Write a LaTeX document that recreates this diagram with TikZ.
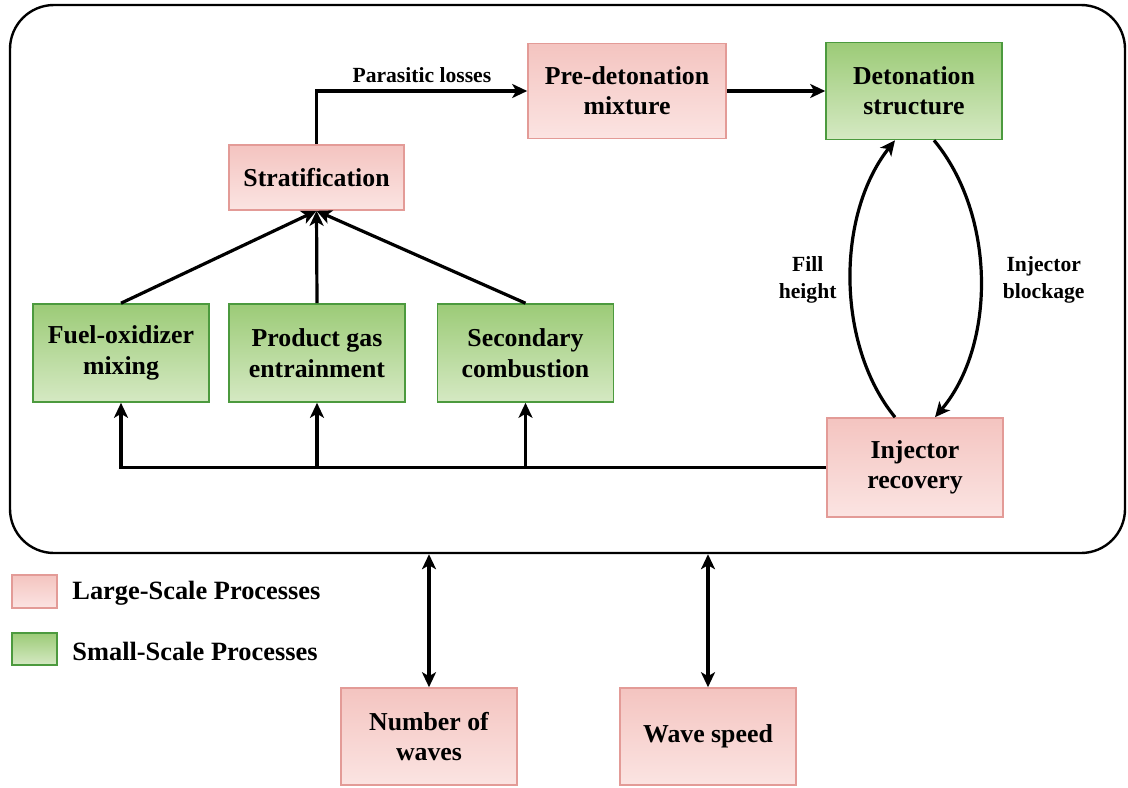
\documentclass[tikz,border=0pt]{standalone}
\usepackage{fontspec}
\setmainfont{Liberation Serif}
\usepackage{tikz}
\usetikzlibrary{arrows.meta}

\definecolor{lstop}{HTML}{F4C4C0}
\definecolor{lsbot}{HTML}{FBE4E2}
\definecolor{lsline}{HTML}{E39B97}
\definecolor{sstop}{HTML}{9CCB77}
\definecolor{ssbot}{HTML}{D5E9C3}
\definecolor{ssline}{HTML}{4C9A3E}

\tikzset{
	largebox/.style={draw=lsline,line width=0.8pt,top color=lstop,bottom color=lsbot,
		align=center,font=\fontsize{12.9}{15.2}\selectfont\bfseries},
	smallbox/.style={draw=ssline,line width=0.8pt,top color=sstop,bottom color=ssbot,
		align=center,font=\fontsize{12.9}{15.2}\selectfont\bfseries},
	tip/.tip={Stealth[length=7.5pt,width=7pt,inset=2pt]},
	arr/.style={line width=1.6pt,-tip},
	twoarr/.style={line width=1.6pt,tip-tip},
	lbl/.style={align=center,font=\fontsize{10.8}{13.5}\selectfont\bfseries}
}

\begin{document}
\begin{tikzpicture}[x=0.5pt,y=-0.5pt]
		\useasboundingbox (0,0) rectangle (1128,787);
%		\draw[help lines,step=50] (0,0) grid (1128,787);
		\path (567.5,279) coordinate (framec);
		\path (627,91) coordinate (predetc);
		\path (914,91) coordinate (detc);
		\path (316.5,177.5) coordinate (stratc);
		\path (121,353) coordinate (fueloxc);
		\path (317,353) coordinate (prodgasc);
		\path (525.5,353) coordinate (seccombc);
		\path (915,467.5) coordinate (injrecc);
		\path (429,736.5) coordinate (numwavesc);
		\path (708,736.5) coordinate (wavespeedc);

		\node[draw,line width=1.2pt,rounded corners=22pt,minimum width=557.5pt,minimum height=274pt] (frame) at (framec) {};

		\node[largebox,minimum width=99pt,minimum height=47.5pt] (predet) at (predetc) {Pre-detonation\\mixture};
		\node[smallbox,minimum width=88pt,minimum height=48.5pt] (det) at (detc) {Detonation\\structure};
		\node[largebox,minimum width=87.5pt,minimum height=32.5pt] (strat) at (stratc) {Stratification};
		\node[smallbox,minimum width=88pt,minimum height=49pt] (fuelox) at (fueloxc) {Fuel-oxidizer\\mixing};
		\node[smallbox,minimum width=88pt,minimum height=49pt] (prodgas) at (prodgasc) {Product gas\\entrainment};
		\node[smallbox,minimum width=88pt,minimum height=49pt] (seccomb) at (seccombc) {Secondary\\combustion};
		\node[largebox,minimum width=88pt,minimum height=49.5pt] (injrec) at (injrecc) {Injector\\recovery};
		\node[largebox,minimum width=88pt,minimum height=48.5pt] (numwaves) at (numwavesc) {Number of\\waves};
		\node[largebox,minimum width=88pt,minimum height=48.5pt] (wavespeed) at (wavespeedc) {Wave speed};

		% legend
		\node[largebox,minimum width=22.5pt,minimum height=16.5pt] (lslegend) at (34.5,591.5) {};
		\node[smallbox,minimum width=22.5pt,minimum height=16pt] (sslegend) at (34.5,649) {};
		\node[anchor=west,font=\fontsize{13.2}{15}\selectfont\bfseries,inner sep=0pt] (lstext) at (72,593) {Large-Scale Processes};
		\node[anchor=west,font=\fontsize{13.2}{15}\selectfont\bfseries,inner sep=0pt] (sstext) at (72,651) {Small-Scale Processes};

		% top row
		\draw[arr] (strat.north) |- node[lbl,above,pos=0.75] {Parasitic losses} (predet.west);
		\draw[arr] (predet.east) -- (det.west);

		% into stratification
		\draw[arr] (fuelox.north) -- (strat.south);
		\draw[arr] (prodgas.north) -- (strat.south);
		\draw[arr] (seccomb.north) -- (strat.south);

		% injector recovery feedback
		\draw[arr] (injrec.west) -| (fuelox.south);
		\draw[arr] (injrec.west -| prodgas) -- (prodgas.south);
		\draw[arr] (injrec.west -| seccomb) -- (seccomb.south);

		% detonation loop
		\draw[arr] ([xshift=-10pt]injrec.north) .. controls (836,345) and (836,215) .. ([xshift=-9.5pt]det.south)
			node[lbl,left=3pt,pos=0.5] {Fill\\height};
		\draw[arr] ([xshift=10pt]det.south) .. controls (996,215) and (996,345) .. ([xshift=10pt]injrec.north)
			node[lbl,right=7pt,pos=0.5] {Injector\\blockage};

		% global quantities
		\draw[twoarr] (frame.south -| numwaves) -- (numwaves.north);
		\draw[twoarr] (frame.south -| wavespeed) -- (wavespeed.north);
	\end{tikzpicture}
\end{document}
